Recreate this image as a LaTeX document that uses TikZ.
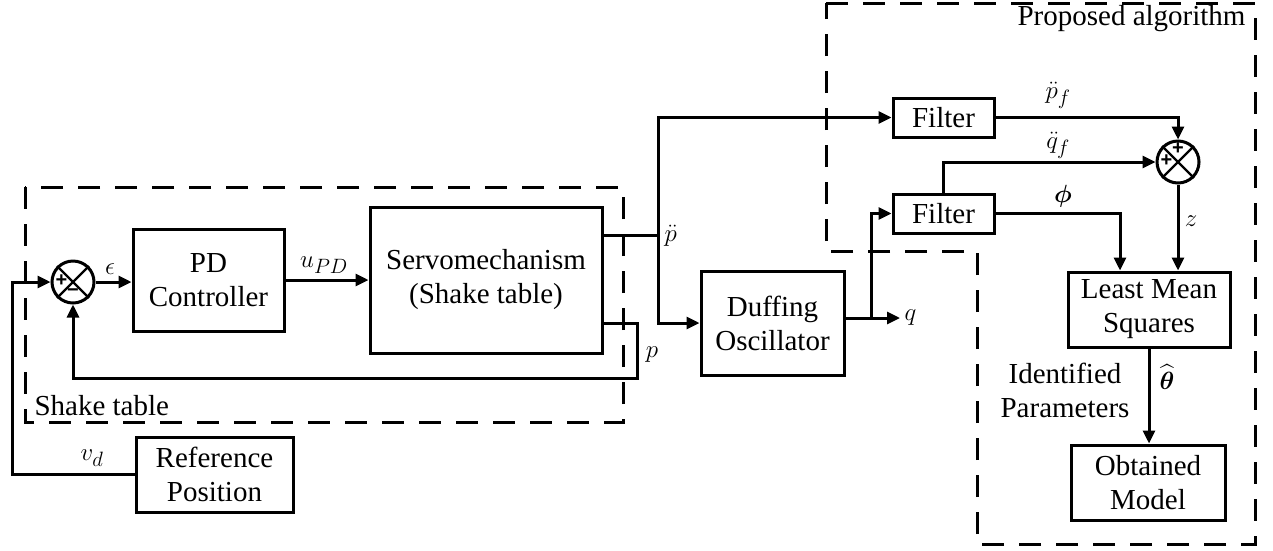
\documentclass[tikz,border=0pt]{standalone}
\usepackage{amsmath}
\usepackage{fontspec}
\setmainfont{Liberation Serif}
\newfontfamily\sgnfont{Liberation Sans}
\usetikzlibrary{arrows.meta}
\begin{document}
\begin{tikzpicture}[x=1pt,y=-1pt, line width=3pt,
 box/.style={draw, line width=3pt, align=center, inner sep=0pt, font=\fontsize{29}{34}\selectfont},
 sumj/.style={draw, circle, minimum size=42pt, inner sep=0pt, line width=3pt},
 arr/.style={-{Triangle[length=13pt,width=12pt]}},
 grp/.style={draw, dash pattern=on 22pt off 15pt, line width=3pt},
 txt/.style={font=\fontsize{29}{34}\selectfont, inner sep=0pt},
 lbl/.style={font=\fontsize{32}{36}\selectfont, inner sep=0pt},
 sgn/.style={font=\fontsize{20}{20}\selectfont\sgnfont\bfseries, inner sep=0pt},
]
\useasboundingbox (0,0) rectangle (1273,550);

% group boxes
\draw[grp] (25,187) rectangle (623,422);
\draw[grp] (826,3) -- (1255,3) -- (1255,544) -- (977,544) -- (977,251) -- (826,251) -- cycle;
\node[txt, anchor=base west] (stlab) at (33,415) {Shake table};
\node[txt, anchor=base east] (palab) at (1247,25) {Proposed algorithm};

% blocks
\node[box, minimum width=151pt, minimum height=102pt] (pd) at (208.5,280) {PD\\Controller};
\node[box, minimum width=232pt, minimum height=146pt] (servo) at (486,280) {Servomechanism\\(Shake table)};
\node[box, minimum width=143pt, minimum height=104pt] (duff) at (772.5,323) {Duffing\\Oscillator};
\node[box, minimum width=101pt, minimum height=39pt] (filt1) at (943.5,117.5) {Filter};
\node[box, minimum width=101pt, minimum height=39pt] (filt2) at (943.5,213.5) {Filter};
\node[box, minimum width=162pt, minimum height=75pt] (lms) at (1149,309.5) {Least Mean\\Squares};
\node[box, minimum width=154pt, minimum height=75pt] (obt) at (1148,482.5) {Obtained\\Model};
\node[box, minimum width=157pt, minimum height=75pt] (ref) at (214.5,474.5) {Reference\\Position};

% summing junctions
\node[sumj] (s1) at (73,282) {};
\draw[line width=2.4pt] (s1.north west) -- (s1.south east) (s1.north east) -- (s1.south west);
\node[sgn] (s1p) at (61.5,281) {+};
\node[sgn] (s1m) at (73,293) {−};
\node[sumj] (s2) at (1178,162) {};
\draw[line width=2.4pt] (s2.north west) -- (s2.south east) (s2.north east) -- (s2.south west);
\node[sgn] (s2p1) at (1178,149) {+};
\node[sgn] (s2p2) at (1166.5,161) {+};

% coordinates
\coordinate (vdc) at (12,474.5);
\coordinate (pdd) at (658,235);
\coordinate (pc) at (637,323);
\coordinate (fb) at (637,378);
\coordinate (q) at (900,318);
\coordinate (br) at (871,318);
\coordinate (phi) at (1120,213.5);

% connectors
\draw[arr] (ref.west) -- (vdc) |- (s1.west);
\draw[arr] (s1.east) -- (pd.west |- s1.east);
\draw[arr] (pd.east) -- (servo.west);
\draw (servo.east |- pdd) -- (pdd);
\draw[arr] (pdd) |- (filt1.west);
\draw[arr] (pdd) |- (duff.west);
\draw[arr] (servo.east |- pc) -| (fb) -| (s1.south);
\draw[arr] (duff.east |- q) -- (q);
\draw[arr] (br) |- (filt2.west);
\draw[arr] (filt1.east) -| (s2.north);
\draw[arr] (filt2.north) |- (s2.west);
\draw[arr] (filt2.east) -- (phi) -- (phi |- lms.north);
\draw[arr] (s2.south) -- (s2.south |- lms.north);
\draw[arr] (lms.south) -- (lms.south |- obt.north);

% labels
\node[lbl] (leps) at (110,269) {$\epsilon$};
\node[lbl] (lupd) at (324,265) {$u_{PD}$};
\node[lbl, anchor=west] (lpdd) at (663,236) {$\ddot p$};
\node[lbl] (lp) at (652,355) {$p$};
\node[lbl, anchor=west] (lq) at (903,318) {$q$};
\node[lbl] (lpf) at (1058,95) {$\ddot p_f$};
\node[lbl] (lqf) at (1058,145) {$\ddot q_f$};
\node[lbl] (lphi) at (1063,196) {$\boldsymbol{\phi}$};
\node[lbl] (lz) at (1191,221) {$z$};
\node[lbl] (lth) at (1167,377) {$\widehat{\boldsymbol{\theta}}$};
\node[lbl] (lvd) at (92,458) {$v_d$};
\node[txt, align=center] (lid) at (1065,390) {Identified\\Parameters};
\end{tikzpicture}
\end{document}
